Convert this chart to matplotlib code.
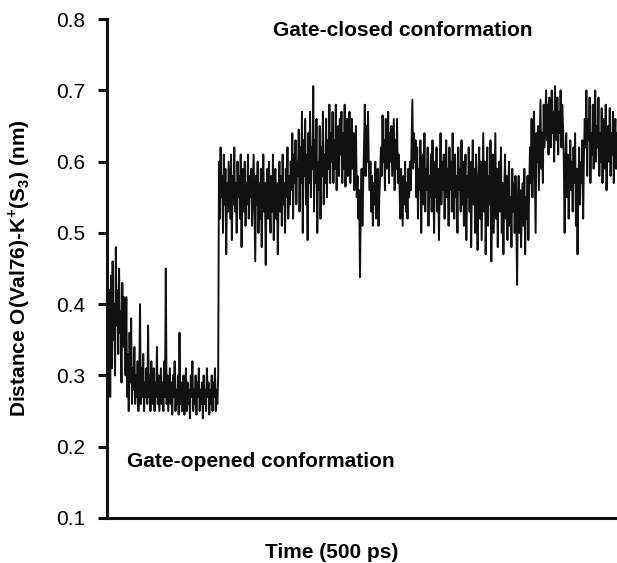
"""Gate distance trace O(Val76)-K+(S3) over simulation time."""

import matplotlib

matplotlib.use("Agg")
import matplotlib.pyplot as plt
import numpy as np

# distance (nm), left to right, ~0.8 px per sample
open_state = [
    0.30, 0.48, 0.28, 0.42, 0.27, 0.44, 0.31,
    0.46, 0.35, 0.40, 0.30, 0.48, 0.37, 0.42, 0.33, 0.45, 0.36,
    0.39, 0.29, 0.43, 0.34, 0.41, 0.36,
    0.30, 0.41, 0.27, 0.33, 0.25, 0.36, 0.29, 0.38, 0.26, 0.31,
    0.28, 0.34, 0.26,
    0.30, 0.27, 0.32, 0.25, 0.29, 0.40, 0.26, 0.31, 0.27, 0.33,
    0.25, 0.29, 0.27, 0.31, 0.26, 0.37, 0.27, 0.30, 0.25, 0.32,
    0.28, 0.26, 0.31, 0.25, 0.29, 0.27, 0.34, 0.26, 0.30, 0.25,
    0.28, 0.31, 0.26, 0.29, 0.25, 0.32, 0.27,
    0.45,
    0.26, 0.30, 0.25, 0.28, 0.31, 0.26, 0.29, 0.245, 0.30, 0.27,
    0.32, 0.25, 0.28, 0.26, 0.30, 0.245, 0.36, 0.26, 0.29, 0.25,
    0.28, 0.30, 0.245, 0.27, 0.31, 0.25, 0.29, 0.26, 0.28, 0.24,
    0.30, 0.27, 0.32, 0.25, 0.28, 0.26, 0.30, 0.245, 0.29, 0.27,
    0.31, 0.25, 0.28, 0.26, 0.29, 0.24, 0.30, 0.26, 0.28, 0.25,
    0.31, 0.27, 0.29, 0.245, 0.28, 0.26, 0.30, 0.25, 0.29, 0.27,
    0.31, 0.25, 0.28, 0.26, 0.30,
]

closed_state = [
    0.60, 0.52, 0.62, 0.55, 0.58, 0.50, 0.61, 0.54, 0.59, 0.47,
    0.57, 0.53, 0.60, 0.56, 0.52, 0.61, 0.49, 0.58, 0.54, 0.62,
    0.53, 0.57, 0.50, 0.60, 0.55, 0.58, 0.52, 0.61, 0.48, 0.56,
    0.59, 0.53, 0.60, 0.51, 0.57, 0.54, 0.61, 0.52, 0.58, 0.55,
    0.59, 0.51, 0.56, 0.61, 0.53, 0.46, 0.58, 0.54, 0.60, 0.50,
    0.57, 0.52, 0.59, 0.48, 0.55, 0.61, 0.53, 0.57, 0.455, 0.56,
    0.59, 0.52, 0.60, 0.54, 0.50, 0.58, 0.53, 0.61, 0.49, 0.56,
    0.59, 0.52, 0.57, 0.47, 0.55, 0.60, 0.53, 0.58, 0.51, 0.61,
    0.54, 0.57, 0.50, 0.59, 0.55, 0.62, 0.52, 0.58, 0.54, 0.60,
    0.56, 0.64, 0.52, 0.61, 0.57, 0.63, 0.54, 0.60, 0.58, 0.645,
    0.53, 0.62,
    0.57, 0.67, 0.50, 0.63, 0.58, 0.66, 0.54, 0.61, 0.49, 0.64,
    0.57, 0.67, 0.55, 0.62, 0.59, 0.706, 0.53, 0.63, 0.57, 0.66,
    0.50, 0.60, 0.56, 0.65, 0.52, 0.62, 0.58, 0.67, 0.54, 0.61,
    0.57, 0.66, 0.55, 0.63, 0.59, 0.68, 0.57, 0.64,
    0.60, 0.67, 0.57, 0.63, 0.59, 0.68, 0.56, 0.62, 0.65, 0.58,
    0.66, 0.61, 0.67, 0.57, 0.64, 0.59, 0.68, 0.565, 0.62, 0.66,
    0.58, 0.63, 0.67, 0.57, 0.61, 0.66, 0.59, 0.64, 0.56, 0.62,
    0.65,
    0.55, 0.58, 0.52, 0.56, 0.438, 0.54, 0.59, 0.51, 0.57,
    0.62, 0.68, 0.58, 0.65, 0.60, 0.67, 0.59,
    0.56, 0.60, 0.53, 0.58, 0.51, 0.57, 0.54, 0.60, 0.52, 0.56,
    0.59, 0.51, 0.55, 0.58, 0.62,
    0.58, 0.665, 0.60, 0.63, 0.56, 0.66, 0.59, 0.62, 0.67, 0.57,
    0.64, 0.60, 0.65, 0.58, 0.62, 0.66, 0.56, 0.63, 0.59, 0.66,
    0.57, 0.61,
    0.57, 0.52, 0.59, 0.55, 0.51, 0.58, 0.54, 0.60, 0.53, 0.57,
    0.52, 0.59, 0.55, 0.60, 0.56,
    0.62, 0.687, 0.59, 0.64, 0.60, 0.63,
    0.55, 0.62, 0.52, 0.59, 0.56, 0.63, 0.50, 0.58, 0.61, 0.54,
    0.64, 0.53, 0.59, 0.56, 0.62, 0.51, 0.58, 0.55, 0.61, 0.53,
    0.63, 0.57, 0.50, 0.60, 0.55, 0.62, 0.53, 0.59, 0.49, 0.57,
    0.64, 0.54, 0.60, 0.56, 0.61, 0.52, 0.58, 0.63, 0.55, 0.59,
    0.51, 0.62, 0.56, 0.60, 0.53, 0.64, 0.57, 0.52, 0.61, 0.55,
    0.58, 0.50, 0.62, 0.56, 0.59, 0.53, 0.63, 0.54, 0.60, 0.51,
    0.57, 0.61, 0.49, 0.58, 0.55, 0.62, 0.53, 0.60, 0.48, 0.57,
    0.63, 0.54, 0.59, 0.50, 0.61, 0.55, 0.476, 0.58, 0.62, 0.52,
    0.60,
    0.49, 0.57, 0.64, 0.53, 0.60, 0.47, 0.56, 0.62, 0.51, 0.58,
    0.54, 0.63, 0.46, 0.55, 0.61, 0.50, 0.57, 0.64, 0.52, 0.59,
    0.48, 0.56, 0.60, 0.53, 0.62, 0.50, 0.57, 0.47, 0.55, 0.61,
    0.52, 0.58, 0.49, 0.56, 0.60, 0.51, 0.55, 0.48, 0.59, 0.53,
    0.57, 0.50, 0.58, 0.52,
    0.427,
    0.55, 0.58, 0.50, 0.56, 0.48, 0.54, 0.57, 0.51, 0.59, 0.47,
    0.55, 0.52, 0.58, 0.49, 0.56,
    0.62, 0.57, 0.66, 0.55, 0.63, 0.67, 0.58, 0.50, 0.64, 0.60,
    0.65, 0.56, 0.62, 0.687, 0.59, 0.64, 0.57, 0.68, 0.62,
    0.66, 0.70, 0.63, 0.68, 0.61, 0.69, 0.65, 0.62, 0.70, 0.64,
    0.67, 0.60, 0.706, 0.66, 0.63, 0.69, 0.61, 0.67, 0.64, 0.70,
    0.62, 0.68, 0.65, 0.60, 0.50,
    0.60, 0.64, 0.55, 0.61, 0.52, 0.58, 0.63, 0.56, 0.60, 0.53,
    0.62, 0.57, 0.64, 0.51, 0.59, 0.47, 0.56, 0.62, 0.54, 0.60,
    0.57, 0.63, 0.52, 0.61, 0.66,
    0.62, 0.70, 0.58, 0.66, 0.63, 0.69, 0.57, 0.64, 0.61, 0.68,
    0.59, 0.66, 0.70, 0.60, 0.65, 0.62, 0.69, 0.58, 0.64,
    0.60, 0.675, 0.57, 0.63, 0.66, 0.59, 0.68, 0.56, 0.62, 0.65,
    0.60, 0.675, 0.58, 0.64, 0.61, 0.67, 0.57, 0.63, 0.66, 0.59,
    0.64,
]

distance = open_state + closed_state
frames = np.arange(len(distance))

y_ticks = [0.1, 0.2, 0.3, 0.4, 0.5, 0.6, 0.7, 0.8]

plt.rcParams["font.family"] = ["Liberation Sans", "DejaVu Sans"]
plt.rcParams["mathtext.fontset"] = "custom"
plt.rcParams["mathtext.rm"] = "Liberation Sans:bold"
plt.rcParams["mathtext.bf"] = "Liberation Sans:bold"

fig = plt.figure(figsize=(6.17, 5.63), dpi=100)
ax = fig.add_axes([0.1734, 0.080, 0.8266, 0.886])

ax.plot(frames, distance, color="#111111", lw=1.4)

ax.set_xlim(0, len(distance) - 1)
ax.set_ylim(0.1, 0.8)
ax.set_yticks(y_ticks)
ax.set_yticklabels([f"{t:.1f}" for t in y_ticks], fontsize=15)
ax.set_xticks([])

for side in ("top", "right"):
    ax.spines[side].set_visible(False)
for side in ("left", "bottom"):
    ax.spines[side].set_linewidth(2.2)
    ax.spines[side].set_color("#111111")
ax.tick_params(axis="y", direction="out", length=6.5, width=2.2, pad=9,
               color="#111111")

ax.set_ylabel(r"Distance O(Val76)-K$^{+}$(S$_{3}$) (nm)", fontsize=15,
              fontweight="bold")
ax.yaxis.set_label_coords(-0.147, 0.5)
ax.set_xlabel("Time (500 ps)", fontsize=15, fontweight="bold")
ax.xaxis.set_label_coords(0.44, -0.050)

ax.text(0.580, 0.966, "Gate-closed conformation", transform=ax.transAxes,
        ha="center", va="baseline", fontsize=15, fontweight="bold")
ax.text(0.039, 0.102, "Gate-opened conformation", transform=ax.transAxes,
        ha="left", va="baseline", fontsize=15, fontweight="bold")

fig.savefig("out.png", dpi=100)
